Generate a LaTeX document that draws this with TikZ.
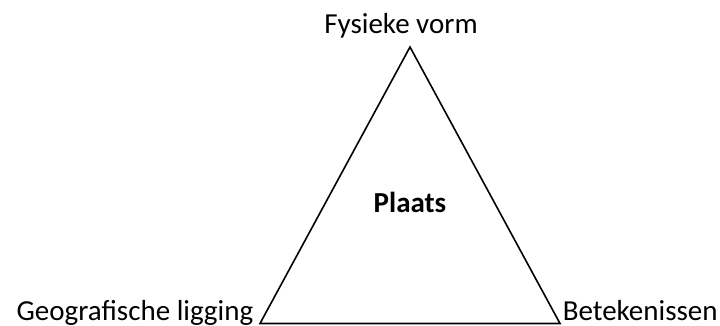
\documentclass[tikz,border=0pt]{standalone}
\usepackage{fontspec}
\setmainfont{Carlito}
\usepackage{tikz}
\usetikzlibrary{positioning}

\begin{document}
\begin{tikzpicture}[x=1pt,y=1pt,line width=1.6pt,font=\fontsize{29}{35}\selectfont]
  \useasboundingbox (0,0) rectangle (720,325);
   \coordinate (top) at (410,278);
   \coordinate (left) at (260,1.5);
   \coordinate (right) at (560,1.5);
    \draw (top) -- (left) -- (right) -- cycle;

   \draw (401,292) node[anchor=base] (vorm) {Fysieke vorm};
   \draw (410,113) node[anchor=base] (plaats) {\textbf{Plaats}};
    \draw (254,4.5) node[anchor=base east,inner sep=0pt] (ligging) {Geografische ligging};
    \draw (562,4.5) node[anchor=base west,inner sep=0pt] (betekenis) {Betekenissen};

\end{tikzpicture}
\end{document}
